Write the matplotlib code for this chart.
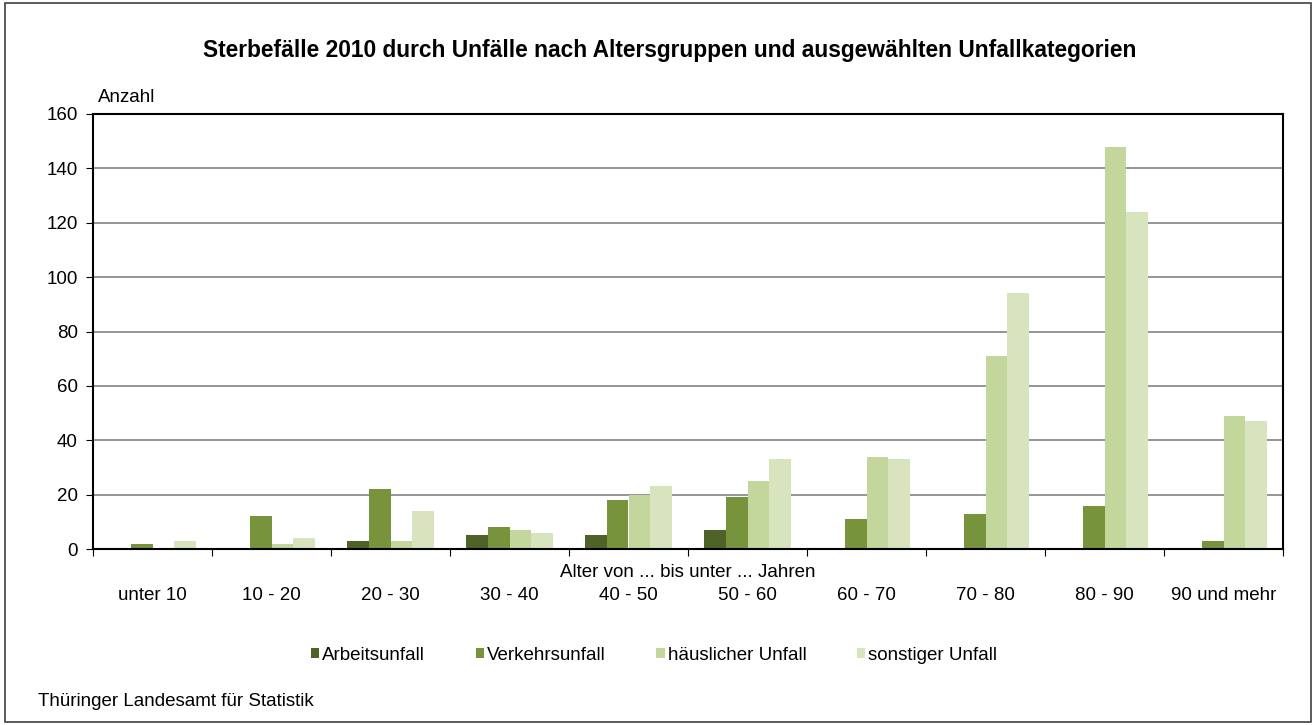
import matplotlib
matplotlib.use("Agg")
import matplotlib.pyplot as plt
import numpy as np
from matplotlib.patches import Rectangle

plt.rcParams['font.family'] = ['Liberation Sans', 'DejaVu Sans']

# Daten
altersgruppen = ["unter 10", "10 - 20", "20 - 30", "30 - 40", "40 - 50",
                 "50 - 60", "60 - 70", "70 - 80", "80 - 90", "90 und mehr"]
arbeitsunfall = [0, 0, 3, 5, 5, 7, 0, 0, 0, 0]
verkehrsunfall = [2, 12, 22, 8, 18, 19, 11, 13, 16, 3]
haeuslich = [0, 2, 3, 7, 20, 25, 34, 71, 148, 49]
sonstiger = [3, 4, 14, 6, 23, 33, 33, 94, 124, 47]

serien = ["Arbeitsunfall", "Verkehrsunfall", "häuslicher Unfall", "sonstiger Unfall"]
farben = ["#4f6228", "#77933c", "#c3d69b", "#d7e4bd"]

fs = 13.5

fig = plt.figure(figsize=(13.16, 7.25), dpi=100)
ax = fig.add_axes([93 / 1316, 1 - 549 / 725, 1190 / 1316, 435 / 725])

x = np.arange(len(altersgruppen))
breite = 0.183
werte = [arbeitsunfall, verkehrsunfall, haeuslich, sonstiger]
for i, (w, f, name) in enumerate(zip(werte, farben, serien)):
    # Nullwerte nicht als Strich zeichnen
    h = np.where(np.array(w) == 0, np.nan, w)
    ax.bar(x + (i - 1.5) * breite, h, breite, color=f, label=name,
           linewidth=0, zorder=3)

ax.set_xlim(-0.5, len(altersgruppen) - 0.5)
ax.set_ylim(0, 160)
ax.set_yticks(range(0, 161, 20))
ax.tick_params(axis='y', labelsize=fs, length=5, direction='out', pad=6)
ax.grid(axis='y', color='#8c8c8c', linewidth=1.3, zorder=0)

# Kategorien-Ticks zwischen den Gruppen
ax.set_xticks(np.arange(-0.5, len(altersgruppen), 1))
ax.set_xticklabels([])
ax.tick_params(axis='x', length=5, direction='out')
for xi, lab in zip(x, altersgruppen):
    ax.text(xi, -0.106, lab, transform=ax.get_xaxis_transform(),
            ha='center', va='center', fontsize=fs)

for s in ax.spines.values():
    s.set_linewidth(1.5)
    s.set_color('black')
    s.set_zorder(4)

ax.text(0.5, -0.053, "Alter von ... bis unter ... Jahren", transform=ax.transAxes,
        ha='center', va='center', fontsize=fs)
fig.text(98 / 1316, 1 - 98 / 725, "Anzahl", ha='left', va='center', fontsize=fs)

fig.text(670 / 1316, 1 - 51 / 725,
         "Sterbefälle 2010 durch Unfälle nach Altersgruppen und ausgewählten Unfallkategorien",
         ha='center', va='center', fontsize=16.4, fontweight='bold')

fig.legend(loc='center', bbox_to_anchor=(0.497, 1 - 655 / 725), ncol=4, frameon=False,
           fontsize=fs, handlelength=0.45, handleheight=0.45, handletextpad=0.15,
           columnspacing=2.7)

fig.text(38 / 1316, 1 - 702 / 725, "Thüringer Landesamt für Statistik",
         ha='left', va='center', fontsize=fs)

fig.patches.append(Rectangle((0.004, 0.004), 0.992, 0.992, transform=fig.transFigure,
                             fill=False, edgecolor='#404040', linewidth=1.2))

fig.savefig("out.png", dpi=100)
